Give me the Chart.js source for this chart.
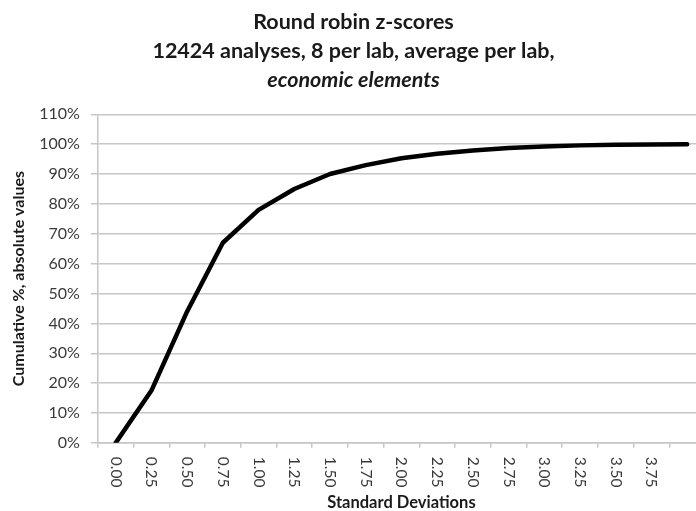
<!DOCTYPE html>
<html>
<head>
<meta charset="utf-8">
<script src="https://cdn.jsdelivr.net/npm/chart.js@4.4.1/dist/chart.umd.min.js"></script>
<style>
  html, body { margin: 0; padding: 0; background: #fff; overflow: hidden; }
  #wrap { width: 696px; height: 511px; overflow: hidden; }
</style>
</head>
<body>
<div id="wrap"><canvas id="chZ" width="712" height="511"></canvas></div>
<script>
// categorie asse X (deviazioni standard); l'ultima etichetta è tagliata nell'originale
const xLabels = ['0.00', '0.25', '0.50', '0.75', '1.00', '1.25', '1.50', '1.75',
                 '2.00', '2.25', '2.50', '2.75', '3.00', '3.25', '3.50', '3.75', ''];
// percentuale cumulata (valori assoluti dei z-score)
const cumPct = [0, 17.5, 44, 67, 78, 85, 90, 93, 95.3, 96.8, 97.9, 98.7, 99.2, 99.6, 99.8, 99.9, 100];
const yTicks = { min: 0, max: 110, step: 10 };

const titleLines = ['Round robin z-scores', '12424 analyses, 8 per lab, average per lab,'];
const subtitleLine = 'economic elements';

const FONT = 'Lato, "Open Sans", sans-serif';
const GRID = '#c6c6c6';
const TXT = '#3a3a3a';

// etichette X ruotate in senso orario (lettura dall'alto verso il basso, come Excel)
const clockwiseLabels = {
  id: 'clockwiseLabels',
  afterDraw(chart) {
    const sx = chart.scales.x, ctx = chart.ctx;
    ctx.save();
    ctx.font = '15.5px ' + FONT;
    ctx.fillStyle = TXT;
    ctx.textAlign = 'left';
    ctx.textBaseline = 'middle';
    sx.ticks.forEach((t, i) => {
      ctx.save();
      ctx.translate(sx.getPixelForTick(i), sx.top + 14);
      ctx.rotate(Math.PI / 2);
      ctx.fillText(t.label, 0, 0);
      ctx.restore();
    });
    ctx.restore();
  }
};

new Chart(document.getElementById('chZ'), {
  type: 'line',
  data: {
    labels: xLabels,
    datasets: [{
      data: cumPct,
      borderColor: '#000',
      borderWidth: 4.5,
      tension: 0,
      pointRadius: 0,
      borderJoinStyle: 'round',
      borderCapStyle: 'round',
      fill: false
    }]
  },
  options: {
    responsive: false,
    animation: false,
    layout: { padding: { left: 2, right: 7, top: 0, bottom: 0 } },
    plugins: {
      legend: { display: false },
      tooltip: { enabled: false },
      title: {
        display: true, text: titleLines, color: '#1a1a1a',
        font: { family: FONT, size: 21.5, weight: 'bold', lineHeight: 1.37 },
        padding: { top: 7.3, bottom: 0 }
      },
      subtitle: {
        display: true, text: subtitleLine, color: '#1a1a1a',
        font: { family: FONT, size: 21.5, weight: 'bold', style: 'italic', lineHeight: 1.2 },
        padding: { top: 1.3, bottom: 21 }
      }
    },
    scales: {
      x: {
        offset: true,
        grid: { offset: true, drawOnChartArea: false, drawTicks: true, tickLength: 5, color: GRID, lineWidth: 1.5 },
        border: { color: GRID, width: 1.5 },
        ticks: { autoSkip: false, minRotation: 90, maxRotation: 90, padding: 4, color: 'transparent', font: { family: FONT, size: 15.5 } },
        title: { display: true, text: 'Standard Deviations', color: '#1a1a1a', font: { family: FONT, size: 16.5, weight: 'bold', lineHeight: 1 }, padding: { top: 8, bottom: 0 } }
      },
      y: {
        min: yTicks.min, max: yTicks.max,
        grid: { color: GRID, lineWidth: 1.5, tickLength: 7 },
        border: { color: GRID, width: 1.5 },
        ticks: { stepSize: yTicks.step, padding: 11, color: TXT, font: { family: FONT, size: 16 }, callback: v => v + '%' },
        title: { display: true, text: 'Cumulative %, absolute values', color: '#1a1a1a', font: { family: FONT, size: 16, weight: 'bold' }, padding: { top: 7, bottom: 0 } }
      }
    }
  },
  plugins: [clockwiseLabels]
});
</script>
</body>
</html>
